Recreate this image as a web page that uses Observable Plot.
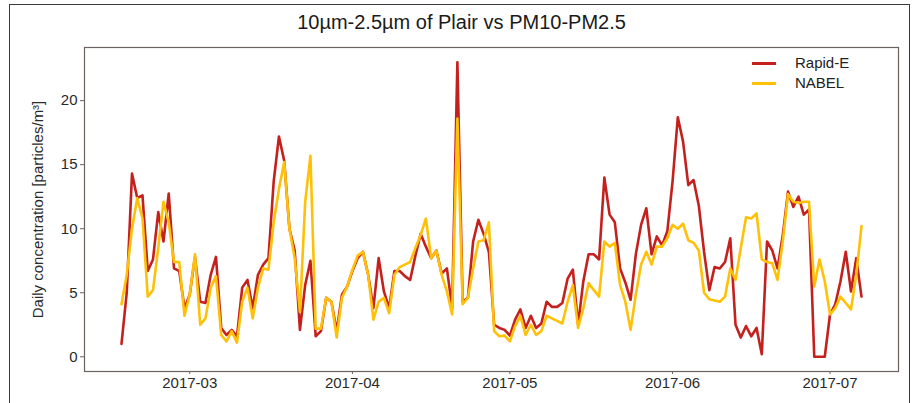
<!DOCTYPE html>
<html><head><meta charset="utf-8">
<script src="https://cdn.jsdelivr.net/npm/d3@7"></script>
<script src="https://cdn.jsdelivr.net/npm/@observablehq/plot@0.6"></script>
<style>
body{margin:0;background:#fff;width:923px;height:403px;overflow:hidden;position:relative;font-family:"Liberation Sans",Arial,sans-serif;}
#border{position:absolute;left:9px;top:4px;width:901px;height:430px;border:1.5px solid #3a3a3a;box-sizing:border-box;}
#title{position:absolute;left:0;width:923px;top:11px;text-align:center;font-size:20px;color:#1a1a1a;}
#chart{position:absolute;left:0;top:40px;}
#legend{position:absolute;left:752px;top:53px;font-size:15px;color:#222;line-height:20px;}
#legend .row{display:flex;align-items:center;}
#legend .sw{width:24px;height:3px;margin-right:19px;}
</style></head><body>
<div id="border"></div>
<div id="title">10µm-2.5µm of Plair vs PM10-PM2.5</div>
<div id="chart"></div>
<div id="legend"></div>
<script>
const startDate = "2017-02-16";
const seriesNames = ["Rapid-E", "NABEL"];
const seriesColors = ["#c4211e", "#ffc107"];
const yTicks = [0, 5, 10, 15, 20];
const yLabel = "Daily concentration [particles/m³]";

const rapidE = [
 1.0, 5.0, 14.3, 12.4, 12.6, 6.7, 7.6, 11.3, 9.0, 12.75, 6.9, 6.7, 3.8,
 4.85, 7.8, 4.3, 4.2, 6.4, 7.8, 2.25, 1.7, 2.1, 1.6, 5.4, 6.0, 3.8, 6.4, 7.2, 7.7,
 13.7, 17.2, 15.3, 10.0, 8.3, 2.1, 5.6, 7.5, 1.6, 2.0, 4.6, 4.3, 2.0, 4.85, 5.5,
 6.7, 7.7, 8.2, 6.4, 3.8, 7.7, 5.1, 3.8, 6.7, 6.7, 6.3, 6.0, 7.9, 9.6, 8.6, 7.7,
 8.3, 6.5, 6.9, 3.8, 23.0, 4.3, 4.6, 9.0, 10.7, 9.6, 8.2, 2.5, 2.25, 2.1, 1.65,
 2.9, 3.7, 2.25, 3.2, 2.25, 2.6, 4.3, 3.9, 3.9, 4.2, 6.1, 6.8, 2.5, 5.9, 8.0, 8.0,
 7.6, 14.0, 11.1, 10.5, 6.9, 5.8, 4.45, 8.0, 10.3, 11.6, 8.0, 9.4, 8.7, 9.8, 13.7,
 18.7, 16.8, 13.4, 13.8, 11.8, 8.2, 5.2, 7.0, 6.9, 7.4, 9.25, 2.5, 1.5, 2.4, 1.6,
 2.25, 0.2, 9.0, 8.3, 6.9, 9.5, 12.9, 11.7, 12.5, 11.1, 11.5, 0, 0, 0, 3.3, 4.1,
 5.9, 8.2, 5.1, 7.7, 4.7
];
const nabel = [
 4.1, 6.4, 10.0, 12.4, 10.8, 4.7, 5.2, 8.5, 12.1, 10.5, 7.4, 7.4, 3.2,
 4.85, 8.0, 2.5, 3.0, 5.4, 6.3, 1.7, 1.2, 2.0, 1.1, 4.3, 5.4, 3.0, 5.4, 6.9, 6.8,
 10.5, 13.1, 15.2, 10.0, 7.7, 3.5, 12.1, 15.7, 2.2, 2.2, 4.6, 4.3, 1.5, 4.6, 5.5,
 6.8, 7.9, 8.2, 6.4, 2.9, 4.3, 4.6, 3.4, 6.4, 7.0, 7.2, 7.4, 8.5, 9.5, 10.8, 7.7,
 8.3, 6.4, 5.1, 3.3, 18.6, 4.1, 4.6, 6.9, 9.0, 9.1, 10.5, 2.0, 1.6, 1.65, 1.2,
 2.4, 3.2, 1.7, 2.5, 1.7, 2.0, 3.2, 3.0, 2.8, 2.6, 4.3, 5.6, 2.25, 3.8, 5.75, 5.2,
 4.7, 9.0, 8.6, 8.9, 5.6, 4.3, 2.1, 4.85, 7.2, 8.2, 7.2, 8.6, 8.6, 9.25, 10.3,
 10.0, 10.4, 9.1, 8.9, 8.3, 5.0, 4.5, 4.4, 4.3, 4.7, 6.9, 6.0, 8.5, 10.9, 10.8,
 11.2, 7.6, 7.4, 7.3, 6.0, 9.0, 12.7, 12.1, 12.0, 12.1, 12.1, 5.5, 7.6, 5.9, 3.3, 3.8,
 4.7, 4.2, 3.7, 6.4, 10.2
];

const start = new Date(startDate + "T00:00:00Z");
const dates = rapidE.map((_, i) => d3.utcDay.offset(start, i));
const data = [];
[rapidE, nabel].forEach((arr, k) => arr.forEach((v, i) => data.push({date: dates[i], value: v, series: seriesNames[k]})));

const first = dates[0], last = dates[dates.length - 1];
const pad = (last - first) * 0.05;
const yMin = 0, yMax = d3.max([...rapidE, ...nabel]);
const yPad = (yMax - yMin) * 0.05;

const chart = Plot.plot({
  width: 923, height: 363,
  marginTop: 7, marginBottom: 32, marginLeft: 84, marginRight: 25,
  style: {fontFamily: "'Liberation Sans', Arial, sans-serif", fontSize: "15px", color: "#2a2a2a", background: "transparent"},
  x: {type: "utc", domain: [new Date(+first - pad), new Date(+last + pad)]},
  y: {domain: [yMin - yPad, yMax + yPad]},
  color: {domain: seriesNames, range: seriesColors},
  marks: [
    Plot.frame({stroke: "#6b6260", strokeWidth: 1.2}),
    Plot.axisX({ticks: d3.utcMonth.every(1), tickFormat: d3.utcFormat("%Y-%m"), tickSize: 3, tickPadding: 3, label: null, stroke: "#6b6260"}),
    Plot.axisY({ticks: yTicks, tickSize: 4, tickPadding: 3, label: yLabel, labelAnchor: "center", labelArrow: "none", labelOffset: 52, stroke: "#6b6260"}),
    Plot.line(data, {x: "date", y: "value", z: "series", stroke: "series", strokeWidth: 2.6, strokeLinejoin: "round", curve: "linear"})
  ]
});
document.getElementById("chart").appendChild(chart);

const leg = document.getElementById("legend");
seriesNames.forEach((n, i) => {
  const r = document.createElement("div"); r.className = "row";
  const s = document.createElement("div"); s.className = "sw"; s.style.background = seriesColors[i];
  const t = document.createElement("span"); t.textContent = n;
  r.appendChild(s); r.appendChild(t); leg.appendChild(r);
});
</script>
</body></html>
